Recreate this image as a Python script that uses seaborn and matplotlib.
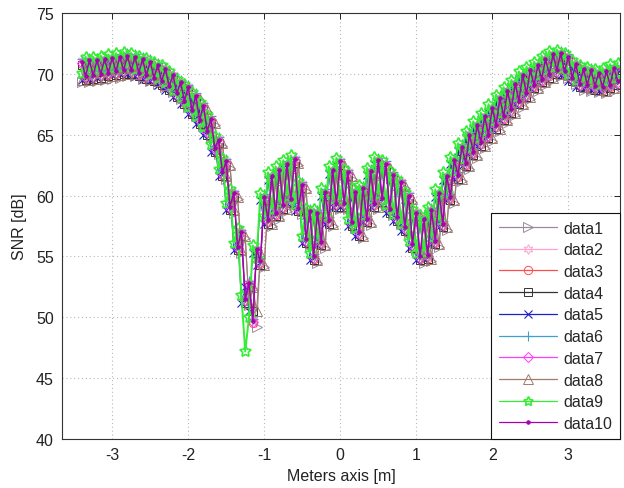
import matplotlib
matplotlib.use("Agg")
import matplotlib.pyplot as plt
import seaborn as sns

# ---------------- data ----------------
x_m = [
    -3.40, -3.35, -3.30, -3.25, -3.20, -3.15, -3.10, -3.05, -3.00, -2.95,
    -2.90, -2.85, -2.80, -2.75, -2.70, -2.65, -2.60, -2.55, -2.50, -2.45,
    -2.40, -2.35, -2.30, -2.25, -2.20, -2.15, -2.10, -2.05, -2.00, -1.95,
    -1.90, -1.85, -1.80, -1.75, -1.70, -1.65, -1.60, -1.55, -1.50, -1.45,
    -1.40, -1.35, -1.30, -1.25, -1.20, -1.15, -1.10, -1.05, -1.00, -0.95,
    -0.90, -0.85, -0.80, -0.75, -0.70, -0.65, -0.60, -0.55, -0.50, -0.45,
    -0.40, -0.35, -0.30, -0.25, -0.20, -0.15, -0.10, -0.05, 0.00, 0.05,
    0.10, 0.15, 0.20, 0.25, 0.30, 0.35, 0.40, 0.45, 0.50, 0.55,
    0.60, 0.65, 0.70, 0.75, 0.80, 0.85, 0.90, 0.95, 1.00, 1.05,
    1.10, 1.15, 1.20, 1.25, 1.30, 1.35, 1.40, 1.45, 1.50, 1.55,
    1.60, 1.65, 1.70, 1.75, 1.80, 1.85, 1.90, 1.95, 2.00, 2.05,
    2.10, 2.15, 2.20, 2.25, 2.30, 2.35, 2.40, 2.45, 2.50, 2.55,
    2.60, 2.65, 2.70, 2.75, 2.80, 2.85, 2.90, 2.95, 3.00, 3.05,
    3.10, 3.15, 3.20, 3.25, 3.30, 3.35, 3.40, 3.45, 3.50, 3.55,
    3.60, 3.65]

data1 = [
    69.3, 70.5, 69.3, 70.6, 69.4, 70.6, 69.5, 70.7, 69.6, 70.8,
    69.7, 70.9, 69.8, 71.0, 69.8, 70.9, 69.6, 70.7, 69.4, 70.5,
    69.2, 70.2, 68.9, 69.9, 68.5, 69.4, 67.9, 68.8, 67.3, 68.4,
    66.5, 67.7, 65.7, 66.9, 64.8, 65.8, 63.4, 64.1, 61.4, 62.3,
    58.6, 59.7, 55.3, 56.5, 51.0, 52.3, 49.2, 55.1, 54.1, 59.4,
    57.5, 61.1, 58.1, 61.6, 58.7, 62.1, 59.2, 62.5, 58.5, 60.4,
    55.9, 58.2, 54.5, 58.1, 55.7, 59.8, 57.5, 61.6, 58.9, 62.3,
    58.9, 61.4, 57.3, 59.8, 56.5, 60.1, 57.6, 61.5, 58.9, 62.4,
    59.3, 62.1, 58.4, 61.2, 57.7, 60.6, 56.9, 59.5, 55.5, 58.1,
    54.5, 57.6, 54.6, 58.3, 55.8, 59.7, 57.2, 61.1, 59.4, 62.4,
    61.2, 63.5, 62.2, 64.5, 63.1, 65.3, 63.9, 66.0, 64.5, 66.7,
    65.3, 67.5, 66.0, 68.1, 66.6, 68.7, 67.3, 69.4, 67.9, 69.8,
    68.6, 70.2, 69.1, 70.7, 69.5, 71.1, 69.8, 71.2, 69.7, 70.9,
    69.2, 70.3, 68.7, 69.9, 68.6, 69.8, 68.5, 69.6, 68.4, 69.7,
    68.6, 70.0]

data2 = [
    71.1, 69.9, 71.2, 70.0, 71.2, 70.1, 71.3, 70.2, 71.4, 70.3,
    71.5, 70.4, 71.6, 70.4, 71.5, 70.2, 71.3, 70.0, 71.1, 69.8,
    70.8, 69.5, 70.5, 69.1, 70.0, 68.5, 69.4, 67.9, 69.0, 67.1,
    68.3, 66.3, 67.5, 65.4, 66.4, 64.0, 64.7, 62.0, 62.9, 59.2,
    60.3, 55.9, 57.1, 51.6, 52.9, 49.8, 55.7, 54.7, 60.0, 58.1,
    61.7, 58.7, 62.2, 59.3, 62.7, 59.8, 63.1, 59.1, 61.0, 56.5,
    58.8, 55.1, 58.7, 56.3, 60.4, 58.1, 62.2, 59.5, 62.9, 59.5,
    62.0, 57.9, 60.4, 57.1, 60.7, 58.2, 62.1, 59.5, 63.0, 59.9,
    62.7, 59.0, 61.8, 58.3, 61.2, 57.5, 60.1, 56.1, 58.7, 55.1,
    58.2, 55.2, 58.9, 56.4, 60.3, 57.8, 61.7, 60.0, 63.0, 61.8,
    64.1, 62.8, 65.1, 63.7, 65.9, 64.5, 66.6, 65.1, 67.3, 65.9,
    68.1, 66.6, 68.7, 67.2, 69.3, 67.9, 70.0, 68.5, 70.4, 69.2,
    70.8, 69.7, 71.3, 70.1, 71.7, 70.4, 71.8, 70.3, 71.5, 69.8,
    70.9, 69.3, 70.5, 69.2, 70.4, 69.1, 70.2, 69.0, 70.3, 69.2,
    70.6, 69.5]

data3 = [
    70.8, 69.6, 70.9, 69.7, 70.9, 69.8, 71.0, 69.9, 71.1, 70.0,
    71.2, 70.1, 71.3, 70.1, 71.2, 69.9, 71.0, 69.7, 70.8, 69.5,
    70.5, 69.2, 70.2, 68.8, 69.7, 68.2, 69.1, 67.6, 68.7, 66.8,
    68.0, 66.0, 67.2, 65.1, 66.1, 63.7, 64.4, 61.7, 62.6, 58.9,
    60.0, 55.6, 56.8, 51.3, 52.6, 49.5, 55.4, 54.4, 59.7, 57.8,
    61.4, 58.4, 61.9, 59.0, 62.4, 59.5, 62.8, 58.8, 60.7, 56.2,
    58.5, 54.8, 58.4, 56.0, 60.1, 57.8, 61.9, 59.2, 62.6, 59.2,
    61.7, 57.6, 60.1, 56.8, 60.4, 57.9, 61.8, 59.2, 62.7, 59.6,
    62.4, 58.7, 61.5, 58.0, 60.9, 57.2, 59.8, 55.8, 58.4, 54.8,
    57.9, 54.9, 58.6, 56.1, 60.0, 57.5, 61.4, 59.7, 62.7, 61.5,
    63.8, 62.5, 64.8, 63.4, 65.6, 64.2, 66.3, 64.8, 67.0, 65.6,
    67.8, 66.3, 68.4, 66.9, 69.0, 67.6, 69.7, 68.2, 70.1, 68.9,
    70.5, 69.4, 71.0, 69.8, 71.4, 70.1, 71.5, 70.0, 71.2, 69.5,
    70.6, 69.0, 70.2, 68.9, 70.1, 68.8, 69.9, 68.7, 70.0, 68.9,
    70.3, 69.2]

data4 = [
    70.7, 69.5, 70.8, 69.6, 70.8, 69.7, 70.9, 69.8, 71.0, 69.9,
    71.1, 70.0, 71.2, 70.0, 71.1, 69.8, 70.9, 69.6, 70.7, 69.4,
    70.4, 69.1, 70.1, 68.7, 69.6, 68.1, 69.0, 67.5, 68.6, 66.7,
    67.9, 65.9, 67.1, 65.0, 66.0, 63.6, 64.3, 61.6, 62.5, 58.8,
    59.9, 55.5, 56.7, 51.2, 52.5, 50.5, 55.3, 54.3, 59.6, 57.7,
    61.3, 58.3, 61.8, 58.9, 62.3, 59.4, 62.7, 58.7, 60.6, 56.1,
    58.4, 54.7, 58.3, 55.9, 60.0, 57.7, 61.8, 59.1, 62.5, 59.1,
    61.6, 57.5, 60.0, 56.7, 60.3, 57.8, 61.7, 59.1, 62.6, 59.5,
    62.3, 58.6, 61.4, 57.9, 60.8, 57.1, 59.7, 55.7, 58.3, 54.7,
    57.8, 54.8, 58.5, 56.0, 59.9, 57.4, 61.3, 59.6, 62.6, 61.4,
    63.7, 62.4, 64.7, 63.3, 65.5, 64.1, 66.2, 64.7, 66.9, 65.5,
    67.7, 66.2, 68.3, 66.8, 68.9, 67.5, 69.6, 68.1, 70.0, 68.8,
    70.4, 69.3, 70.9, 69.7, 71.3, 70.0, 71.4, 69.9, 71.1, 69.4,
    70.5, 68.9, 70.1, 68.8, 70.0, 68.7, 69.8, 68.6, 69.9, 68.8,
    70.2, 69.1]

data5 = [
    69.5, 70.8, 69.6, 70.8, 69.7, 70.9, 69.8, 71.0, 69.9, 71.1,
    70.0, 71.2, 70.0, 71.1, 69.8, 70.9, 69.6, 70.7, 69.4, 70.4,
    69.1, 70.1, 68.7, 69.6, 68.1, 69.0, 67.5, 68.6, 66.7, 67.9,
    65.9, 67.1, 65.0, 66.0, 63.6, 64.3, 61.6, 62.5, 58.8, 59.9,
    55.5, 56.7, 51.2, 52.5, 50.5, 55.3, 54.3, 59.6, 57.7, 61.3,
    58.3, 61.8, 58.9, 62.3, 59.4, 62.7, 58.7, 60.6, 56.1, 58.4,
    54.7, 58.3, 55.9, 60.0, 57.7, 61.8, 59.1, 62.5, 59.1, 61.6,
    57.5, 60.0, 56.7, 60.3, 57.8, 61.7, 59.1, 62.6, 59.5, 62.3,
    58.6, 61.4, 57.9, 60.8, 57.1, 59.7, 55.7, 58.3, 54.7, 57.8,
    54.8, 58.5, 56.0, 59.9, 57.4, 61.3, 59.6, 62.6, 61.4, 63.7,
    62.4, 64.7, 63.3, 65.5, 64.1, 66.2, 64.7, 66.9, 65.5, 67.7,
    66.2, 68.3, 66.8, 68.9, 67.5, 69.6, 68.1, 70.0, 68.8, 70.4,
    69.3, 70.9, 69.7, 71.3, 70.0, 71.4, 69.9, 71.1, 69.4, 70.5,
    68.9, 70.1, 68.8, 70.0, 68.7, 69.8, 68.6, 69.9, 68.8, 70.2,
    69.1, 70.3]

data6 = [
    71.2, 70.0, 71.3, 70.1, 71.3, 70.2, 71.4, 70.3, 71.5, 70.4,
    71.6, 70.5, 71.7, 70.5, 71.6, 70.3, 71.4, 70.1, 71.2, 69.9,
    70.9, 69.6, 70.6, 69.2, 70.1, 68.6, 69.5, 68.0, 69.1, 67.2,
    68.4, 66.4, 67.6, 65.5, 66.5, 64.1, 64.8, 62.1, 63.0, 59.3,
    60.4, 56.0, 57.2, 51.7, 53.0, 49.9, 55.8, 54.8, 60.1, 58.2,
    61.8, 58.8, 62.3, 59.4, 62.8, 59.9, 63.2, 59.2, 61.1, 56.6,
    58.9, 55.2, 58.8, 56.4, 60.5, 58.2, 62.3, 59.6, 63.0, 59.6,
    62.1, 58.0, 60.5, 57.2, 60.8, 58.3, 62.2, 59.6, 63.1, 60.0,
    62.8, 59.1, 61.9, 58.4, 61.3, 57.6, 60.2, 56.2, 58.8, 55.2,
    58.3, 55.3, 59.0, 56.5, 60.4, 57.9, 61.8, 60.1, 63.1, 61.9,
    64.2, 62.9, 65.2, 63.8, 66.0, 64.6, 66.7, 65.2, 67.4, 66.0,
    68.2, 66.7, 68.8, 67.3, 69.4, 68.0, 70.1, 68.6, 70.5, 69.3,
    70.9, 69.8, 71.4, 70.2, 71.8, 70.5, 71.9, 70.4, 71.6, 69.9,
    71.0, 69.4, 70.6, 69.3, 70.5, 69.2, 70.3, 69.1, 70.4, 69.3,
    70.7, 69.6]

data7 = [
    70.9, 69.7, 71.0, 69.8, 71.0, 69.9, 71.1, 70.0, 71.2, 70.1,
    71.3, 70.2, 71.4, 70.2, 71.3, 70.0, 71.1, 69.8, 70.9, 69.6,
    70.6, 69.3, 70.3, 68.9, 69.8, 68.3, 69.2, 67.7, 68.8, 66.9,
    68.1, 66.1, 67.3, 65.2, 66.2, 63.8, 64.5, 61.8, 62.7, 59.0,
    60.1, 55.7, 56.9, 51.4, 52.7, 49.6, 55.5, 54.5, 59.8, 57.9,
    61.5, 58.5, 62.0, 59.1, 62.5, 59.6, 62.9, 58.9, 60.8, 56.3,
    58.6, 54.9, 58.5, 56.1, 60.2, 57.9, 62.0, 59.3, 62.7, 59.3,
    61.8, 57.7, 60.2, 56.9, 60.5, 58.0, 61.9, 59.3, 62.8, 59.7,
    62.5, 58.8, 61.6, 58.1, 61.0, 57.3, 59.9, 55.9, 58.5, 54.9,
    58.0, 55.0, 58.7, 56.2, 60.1, 57.6, 61.5, 59.8, 62.8, 61.6,
    63.9, 62.6, 64.9, 63.5, 65.7, 64.3, 66.4, 64.9, 67.1, 65.7,
    67.9, 66.4, 68.5, 67.0, 69.1, 67.7, 69.8, 68.3, 70.2, 69.0,
    70.6, 69.5, 71.1, 69.9, 71.5, 70.2, 71.6, 70.1, 71.3, 69.6,
    70.7, 69.1, 70.3, 69.0, 70.2, 68.9, 70.0, 68.8, 70.1, 69.0,
    70.4, 69.3]

data8 = [
    69.5, 70.7, 69.5, 70.8, 69.6, 70.8, 69.7, 70.9, 69.8, 71.0,
    69.9, 71.1, 70.0, 71.2, 70.0, 71.1, 69.8, 70.9, 69.6, 70.7,
    69.4, 70.4, 69.1, 70.1, 68.7, 69.6, 68.1, 69.0, 67.5, 68.6,
    66.7, 67.9, 65.9, 67.1, 65.0, 66.0, 63.6, 64.3, 61.6, 62.5,
    58.8, 59.9, 55.5, 56.7, 51.2, 52.5, 50.5, 55.3, 54.3, 59.6,
    57.7, 61.3, 58.3, 61.8, 58.9, 62.3, 59.4, 62.7, 58.7, 60.6,
    56.1, 58.4, 54.7, 58.3, 55.9, 60.0, 57.7, 61.8, 59.1, 62.5,
    59.1, 61.6, 57.5, 60.0, 56.7, 60.3, 57.8, 61.7, 59.1, 62.6,
    59.5, 62.3, 58.6, 61.4, 57.9, 60.8, 57.1, 59.7, 55.7, 58.3,
    54.7, 57.8, 54.8, 58.5, 56.0, 59.9, 57.4, 61.3, 59.6, 62.6,
    61.4, 63.7, 62.4, 64.7, 63.3, 65.5, 64.1, 66.2, 64.7, 66.9,
    65.5, 67.7, 66.2, 68.3, 66.8, 68.9, 67.5, 69.6, 68.1, 70.0,
    68.8, 70.4, 69.3, 70.9, 69.7, 71.3, 70.0, 71.4, 69.9, 71.1,
    69.4, 70.5, 68.9, 70.1, 68.8, 70.0, 68.7, 69.8, 68.6, 69.9,
    68.8, 70.2]

data9 = [
    70.1, 71.4, 70.2, 71.4, 70.3, 71.5, 70.4, 71.6, 70.5, 71.7,
    70.6, 71.8, 70.6, 71.7, 70.4, 71.5, 70.2, 71.3, 70.0, 71.0,
    69.7, 70.7, 69.3, 70.2, 68.7, 69.6, 68.1, 69.2, 67.3, 68.5,
    66.5, 67.7, 65.6, 66.6, 64.2, 64.9, 62.2, 63.1, 59.4, 60.5,
    56.1, 57.3, 51.8, 47.2, 50.0, 55.9, 54.9, 60.2, 58.3, 61.9,
    58.9, 62.4, 59.5, 62.9, 60.0, 63.3, 59.3, 61.2, 56.7, 59.0,
    55.3, 58.9, 56.5, 60.6, 58.3, 62.4, 59.7, 63.1, 59.7, 62.2,
    58.1, 60.6, 57.3, 60.9, 58.4, 62.3, 59.7, 63.2, 60.1, 62.9,
    59.2, 62.0, 58.5, 61.4, 57.7, 60.3, 56.3, 58.9, 55.3, 58.4,
    55.4, 59.1, 56.6, 60.5, 58.0, 61.9, 60.2, 63.2, 62.0, 64.3,
    63.0, 65.3, 63.9, 66.1, 64.7, 66.8, 65.3, 67.5, 66.1, 68.3,
    66.8, 68.9, 67.4, 69.5, 68.1, 70.2, 68.7, 70.6, 69.4, 71.0,
    69.9, 71.5, 70.3, 71.9, 70.6, 72.0, 70.5, 71.7, 70.0, 71.1,
    69.5, 70.7, 69.4, 70.6, 69.3, 70.4, 69.2, 70.5, 69.4, 70.8,
    69.7, 70.9]

data10 = [
    71.0, 69.8, 71.1, 69.9, 71.1, 70.0, 71.2, 70.1, 71.3, 70.2,
    71.4, 70.3, 71.5, 70.3, 71.4, 70.1, 71.2, 69.9, 71.0, 69.7,
    70.7, 69.4, 70.4, 69.0, 69.9, 68.4, 69.3, 67.8, 68.9, 67.0,
    68.2, 66.2, 67.4, 65.3, 66.3, 63.9, 64.6, 61.9, 62.8, 59.1,
    60.2, 55.8, 57.0, 51.5, 52.8, 49.7, 55.6, 54.6, 59.9, 58.0,
    61.6, 58.6, 62.1, 59.2, 62.6, 59.7, 63.0, 59.0, 60.9, 56.4,
    58.7, 55.0, 58.6, 56.2, 60.3, 58.0, 62.1, 59.4, 62.8, 59.4,
    61.9, 57.8, 60.3, 57.0, 60.6, 58.1, 62.0, 59.4, 62.9, 59.8,
    62.6, 58.9, 61.7, 58.2, 61.1, 57.4, 60.0, 56.0, 58.6, 55.0,
    58.1, 55.1, 58.8, 56.3, 60.2, 57.7, 61.6, 59.9, 62.9, 61.7,
    64.0, 62.7, 65.0, 63.6, 65.8, 64.4, 66.5, 65.0, 67.2, 65.8,
    68.0, 66.5, 68.6, 67.1, 69.2, 67.8, 69.9, 68.4, 70.3, 69.1,
    70.7, 69.6, 71.2, 70.0, 71.6, 70.3, 71.7, 70.2, 71.4, 69.7,
    70.8, 69.2, 70.4, 69.1, 70.3, 69.0, 70.1, 68.9, 70.2, 69.1,
    70.5, 69.4]

series_names = ["data1", "data2", "data3", "data4", "data5",
                "data6", "data7", "data8", "data9", "data10"]
series_values = [data1, data2, data3, data4, data5,
                 data6, data7, data8, data9, data10]

x_ticks = [-3, -2, -1, 0, 1, 2, 3]
y_ticks = [40, 45, 50, 55, 60, 65, 70, 75]

# ---------------- styling ----------------
colors = ["#9a8a9e", "#ffa3d1", "#ff4d4d", "#333333", "#1f1fcc",
          "#3fa0d0", "#ff3cff", "#a27a6e", "#33ee33", "#a800b0"]
markers = [">", (6, 1, 0), "o", "s", "x", "+", "D", "^", (5, 1, 0), "."]
msizes = [7, 7, 6, 6, 5.5, 7, 5, 7, 8.5, 5]
mews = [0.7, 0.7, 0.7, 0.7, 0.8, 0.8, 0.7, 0.7, 1.2, 0.7]
lws = [0.8, 0.6, 0.6, 0.6, 0.6, 0.6, 0.6, 0.8, 1.4, 1.1]

sns.set_theme(style="white")
plt.rcParams["font.family"] = ["Liberation Sans", "DejaVu Sans"]

fig = plt.figure(figsize=(6.24, 4.89), dpi=100)
ax = fig.add_axes([62 / 624, 1 - 440 / 489, (620 - 62) / 624, (440 - 14) / 489])

for name, vals, c, m, ms, mw, lw in zip(series_names, series_values, colors,
                                        markers, msizes, mews, lws):
    filled = m == "."
    sns.lineplot(x=x_m, y=vals, ax=ax, color=c, marker=m, markersize=ms,
                 markerfacecolor=c if filled else "none", markeredgecolor=c,
                 markeredgewidth=mw, linewidth=lw, label=name,
                 sort=False, estimator=None)

ax.set_xlim(-3.66, 3.68)
ax.set_ylim(40, 75)
ax.set_xticks(x_ticks)
ax.set_yticks(y_ticks)
ax.set_xticklabels([str(t) for t in x_ticks])
ax.set_yticklabels([str(t) for t in y_ticks])
ax.tick_params(direction="in", top=True, right=True, length=4, width=0.7,
               labelsize=11.5, colors="#222222", pad=6)
ax.grid(True, linestyle=(0, (1, 2.5)), color="#b8b8b8", linewidth=0.8)
for sp in ax.spines.values():
    sp.set_color("#333333")
    sp.set_linewidth(0.8)

ax.set_xlabel("Meters axis [m]", fontsize=11.5, color="#222222", labelpad=4)
ax.set_ylabel("SNR [dB]", fontsize=11.5, color="#222222", labelpad=6)

leg = ax.legend(loc="lower right", frameon=True, fancybox=False, fontsize=11.5,
                handlelength=3.6, labelspacing=0.42, borderaxespad=0,
                borderpad=0.5, handletextpad=0.4, framealpha=1)
leg.get_frame().set_edgecolor("#111111")
leg.get_frame().set_linewidth(0.8)
for line in leg.get_lines():
    line.set_linewidth(0.9)
    if line.get_marker() == (5, 1, 0):
        line.set_markersize(7)

fig.savefig("out.png", dpi=100)
